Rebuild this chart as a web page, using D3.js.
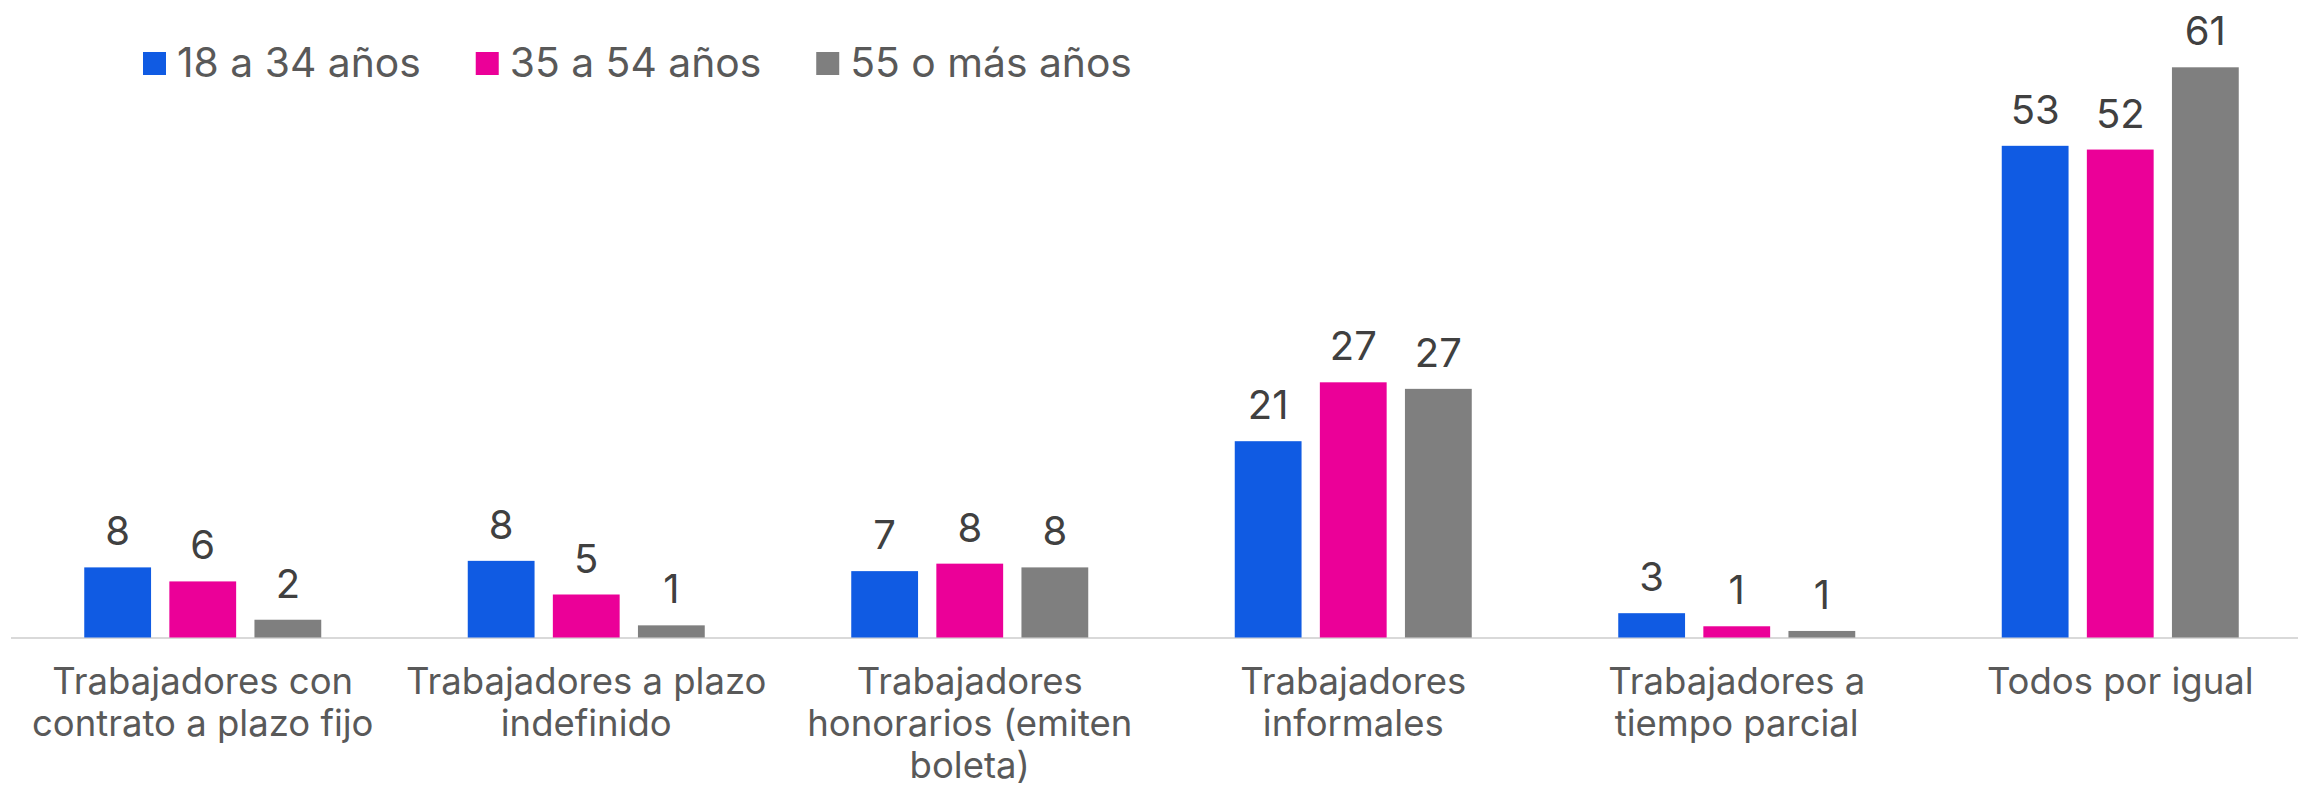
<!DOCTYPE html>
<html>
<head>
<meta charset="utf-8">
<script src="https://cdn.jsdelivr.net/npm/d3@7"></script>
<style>
  html, body { margin: 0; padding: 0; background: #ffffff; }
  svg { display: block; }
  text { font-family: Inter, Roboto, "Noto Sans", sans-serif; }
</style>
</head>
<body>
<svg id="chart" width="2298" height="789"></svg>
<script>
// ---- data ----
const categories = [
  "Trabajadores con\ncontrato a plazo fijo",
  "Trabajadores a plazo\nindefinido",
  "Trabajadores\nhonorarios (emiten\nboleta)",
  "Trabajadores\ninformales",
  "Trabajadores a\ntiempo parcial",
  "Todos por igual"
];
const seriesNames = ["18 a 34 años", "35 a 54 años", "55 o más años"];
const seriesColors = ["#105BE3", "#EB0098", "#7F7F7F"];
const values18a34 = [7.5, 8.2, 7.1, 21.0, 2.6, 52.6];
const values35a54 = [6.0, 4.6, 7.9, 27.3, 1.2, 52.2];
const values55mas = [1.9, 1.3, 7.5, 26.6, 0.7, 61.0];
const seriesValues = [values18a34, values35a54, values55mas];

// ---- layout ----
const W = 2298, H = 789;
const baseline = 637.5;
const topY = 67.3;
const svg = d3.select("#chart");

const x0 = d3.scaleBand().domain(d3.range(categories.length)).range([11, 2312]).padding(0);
const groupInner = 237;
const off = (x0.bandwidth() - groupInner) / 2;
const x1 = d3.scaleBand().domain(d3.range(seriesNames.length)).range([off, off + groupInner]).paddingInner(0.215).paddingOuter(0);
const y = d3.scaleLinear().domain([0, d3.max(values55mas)]).range([baseline, topY]);

// axis baseline
svg.append("line")
  .attr("x1", 11).attr("x2", W)
  .attr("y1", baseline + 0.5).attr("y2", baseline + 0.5)
  .attr("stroke", "#d9d9d9").attr("stroke-width", 2);

// bars
const groups = svg.selectAll("g.grp").data(categories).enter().append("g")
  .attr("class", "grp")
  .attr("transform", (d, i) => `translate(${x0(i)},0)`);

groups.each(function(cat, ci) {
  const g = d3.select(this);
  seriesValues.forEach((vals, si) => {
    const v = vals[ci];
    g.append("rect")
      .attr("x", x1(si))
      .attr("width", x1.bandwidth())
      .attr("y", y(v))
      .attr("height", baseline - y(v))
      .attr("fill", seriesColors[si]);
    g.append("text")
      .attr("x", x1(si) + x1.bandwidth() / 2)
      .attr("y", y(v) - 22)
      .attr("text-anchor", "middle")
      .attr("font-size", 40)
      .attr("fill", "#404040")
      .text(d3.format(".0f")(v));
  });
  const lines = cat.split("\n");
  const t = g.append("text")
    .attr("text-anchor", "middle")
    .attr("font-size", 36.5)
    .attr("fill", "#595959");
  lines.forEach((ln, li) => {
    t.append("tspan")
      .attr("x", x0.bandwidth() / 2)
      .attr("y", 694 + li * 42)
      .text(ln);
  });
});

// legend
const legend = svg.append("g");
let lx = 143;
seriesNames.forEach((name, i) => {
  legend.append("rect")
    .attr("x", lx).attr("y", 52).attr("width", 23).attr("height", 23)
    .attr("fill", seriesColors[i]);
  const t = legend.append("text")
    .attr("x", lx + 34).attr("y", 76.5)
    .attr("font-size", 40.8)
    .attr("fill", "#595959")
    .text(name);
  lx = lx + 34 + t.node().getComputedTextLength() + 55;
});
</script>
</body>
</html>
